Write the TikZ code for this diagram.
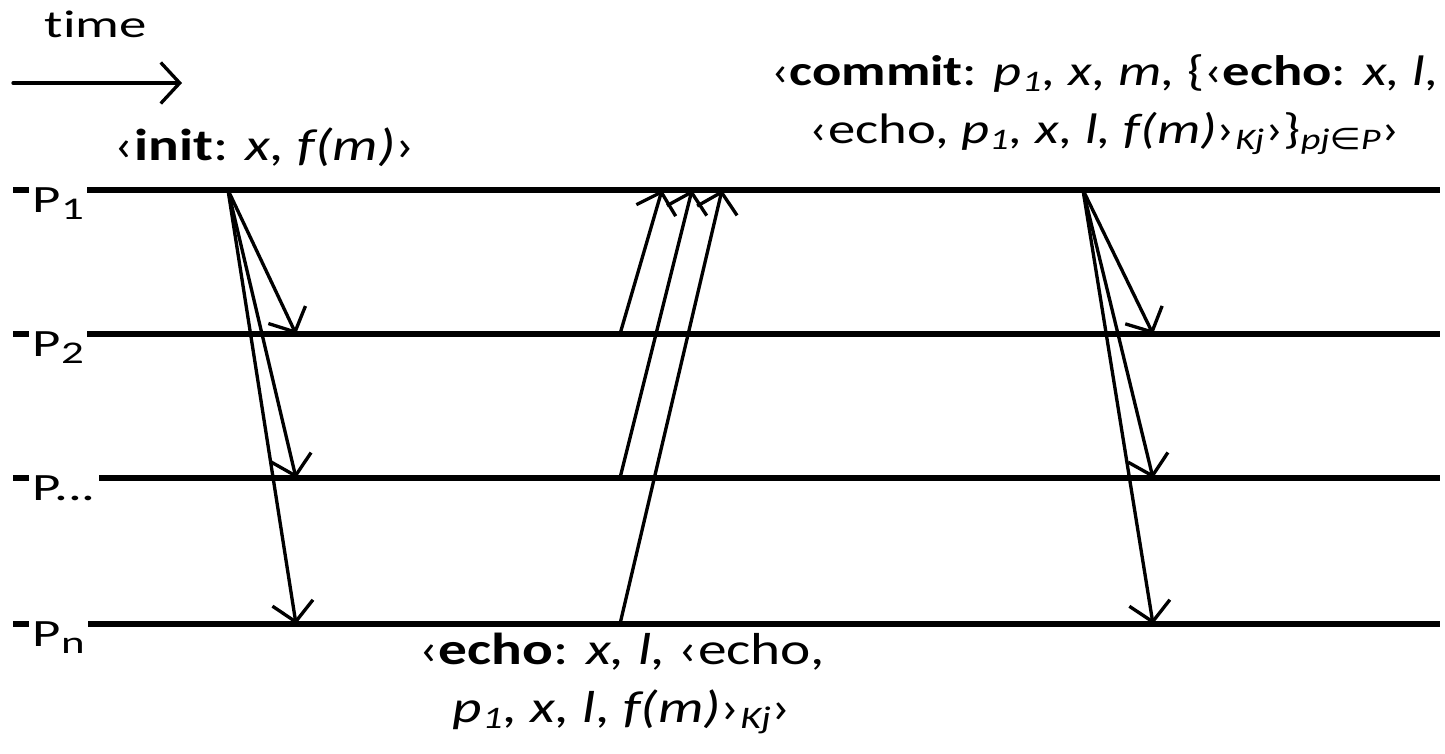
\documentclass[tikz,border=0pt]{standalone}
\usepackage{fontspec}
\setmainfont{Carlito}[FakeStretch=1.28,Ligatures=NoCommon]
\newfontfamily\labelfont{Carlito}[FakeStretch=1.42,Ligatures=NoCommon]
\newfontfamily\elemfont{DejaVu Sans}[FakeStretch=1.2]
\usetikzlibrary{arrows.meta}
\newcommand{\procsub}[1]{\raisebox{-0.15cm}{\fontsize{18}{20}\selectfont #1}}

\begin{document}
\begin{tikzpicture}[x=0.02cm,y=-0.02cm,
  timeline/.style={line width=3.1pt},
  msg/.style={line width=1.9pt,line cap=round,-{Straight Barb[length=0.38cm,width=0.82cm]}},
  proc/.style={fill=white,inner sep=2pt,anchor=base west,font=\labelfont\fontsize{22}{26}\selectfont},
  msgtext/.style={align=center,anchor=base,font=\fontsize{25.5}{33}\selectfont}]

\useasboundingbox[fill=white] (0,0) rectangle (1445,754);

% Time axis
\coordinate (t0) at (13,83);
\coordinate (t1) at (182,83);
\draw[msg] (t0) -- (t1);
\node[font=\labelfont\fontsize{22}{26}\selectfont,anchor=base] (time) at (96,37) {time};

% Process lines
\coordinate (p1s) at (13,190);   \coordinate (p1e) at (1440,190);
\coordinate (p2s) at (13,334);   \coordinate (p2e) at (1440,334);
\coordinate (pks) at (13,478);   \coordinate (pke) at (1440,478);
\coordinate (pns) at (13,624);   \coordinate (pne) at (1440,624);
\draw[timeline] (p1s) -- (p1e);
\draw[timeline] (p2s) -- (p2e);
\draw[timeline] (pks) -- (pke);
\draw[timeline] (pns) -- (pne);

% Process labels
\node[proc] (P1) at (29,212) {P\procsub{1}};
\node[proc] (P2) at (29,356) {P\procsub{2}};
\node[proc] (Pk) at (29,500) {P...};
\node[proc] (Pn) at (29,646) {P\procsub{n}};

% Init messages
\coordinate (i0) at (228,190);
\coordinate (i2) at (296,334);
\coordinate (ik) at (296,478);
\coordinate (in) at (296,624);
\draw[msg] (i0) -- (i2);
\draw[msg] (i0) -- (ik);
\draw[msg] (i0) -- (in);

% Echo messages
\coordinate (e2) at (620,334);
\coordinate (ek) at (620,478);
\coordinate (en) at (620,624);
\coordinate (f2) at (662,190);
\coordinate (fk) at (692,190);
\coordinate (fn) at (722,190);
\draw[msg] (e2) -- (f2);
\draw[msg] (ek) -- (fk);
\draw[msg] (en) -- (fn);

% Commit messages
\coordinate (c0) at (1083,190);
\coordinate (c2) at (1153,334);
\coordinate (ck) at (1153,478);
\coordinate (cn) at (1153,624);
\draw[msg] (c0) -- (c2);
\draw[msg] (c0) -- (ck);
\draw[msg] (c0) -- (cn);

% Message labels
\node[msgtext] (initlbl) at (265,160) {‹\textbf{init}: \textit{x, f(m)}›};
\node[msgtext,font=\fontsize{24.3}{33}\selectfont] (commitlbl) at (1105,143)
  {‹\textbf{commit}: \textit{p\textsubscript{1}, x, m,} \{‹\textbf{echo}: \textit{x, l,}\\
   ‹echo, \textit{p\textsubscript{1}, x, l, f(m)}›\textsubscript{\textit{Kj}}›\}\textsubscript{\textit{pj}{\elemfont\itshape ∈}\textit{P}}›};
\node[msgtext] (echolbl) at (622,722)
  {‹\textbf{echo}: \textit{x, l,} ‹echo,\\
   \textit{p\textsubscript{1}, x, l, f(m)}›\textsubscript{\textit{Kj}}›};

\end{tikzpicture}
\end{document}
